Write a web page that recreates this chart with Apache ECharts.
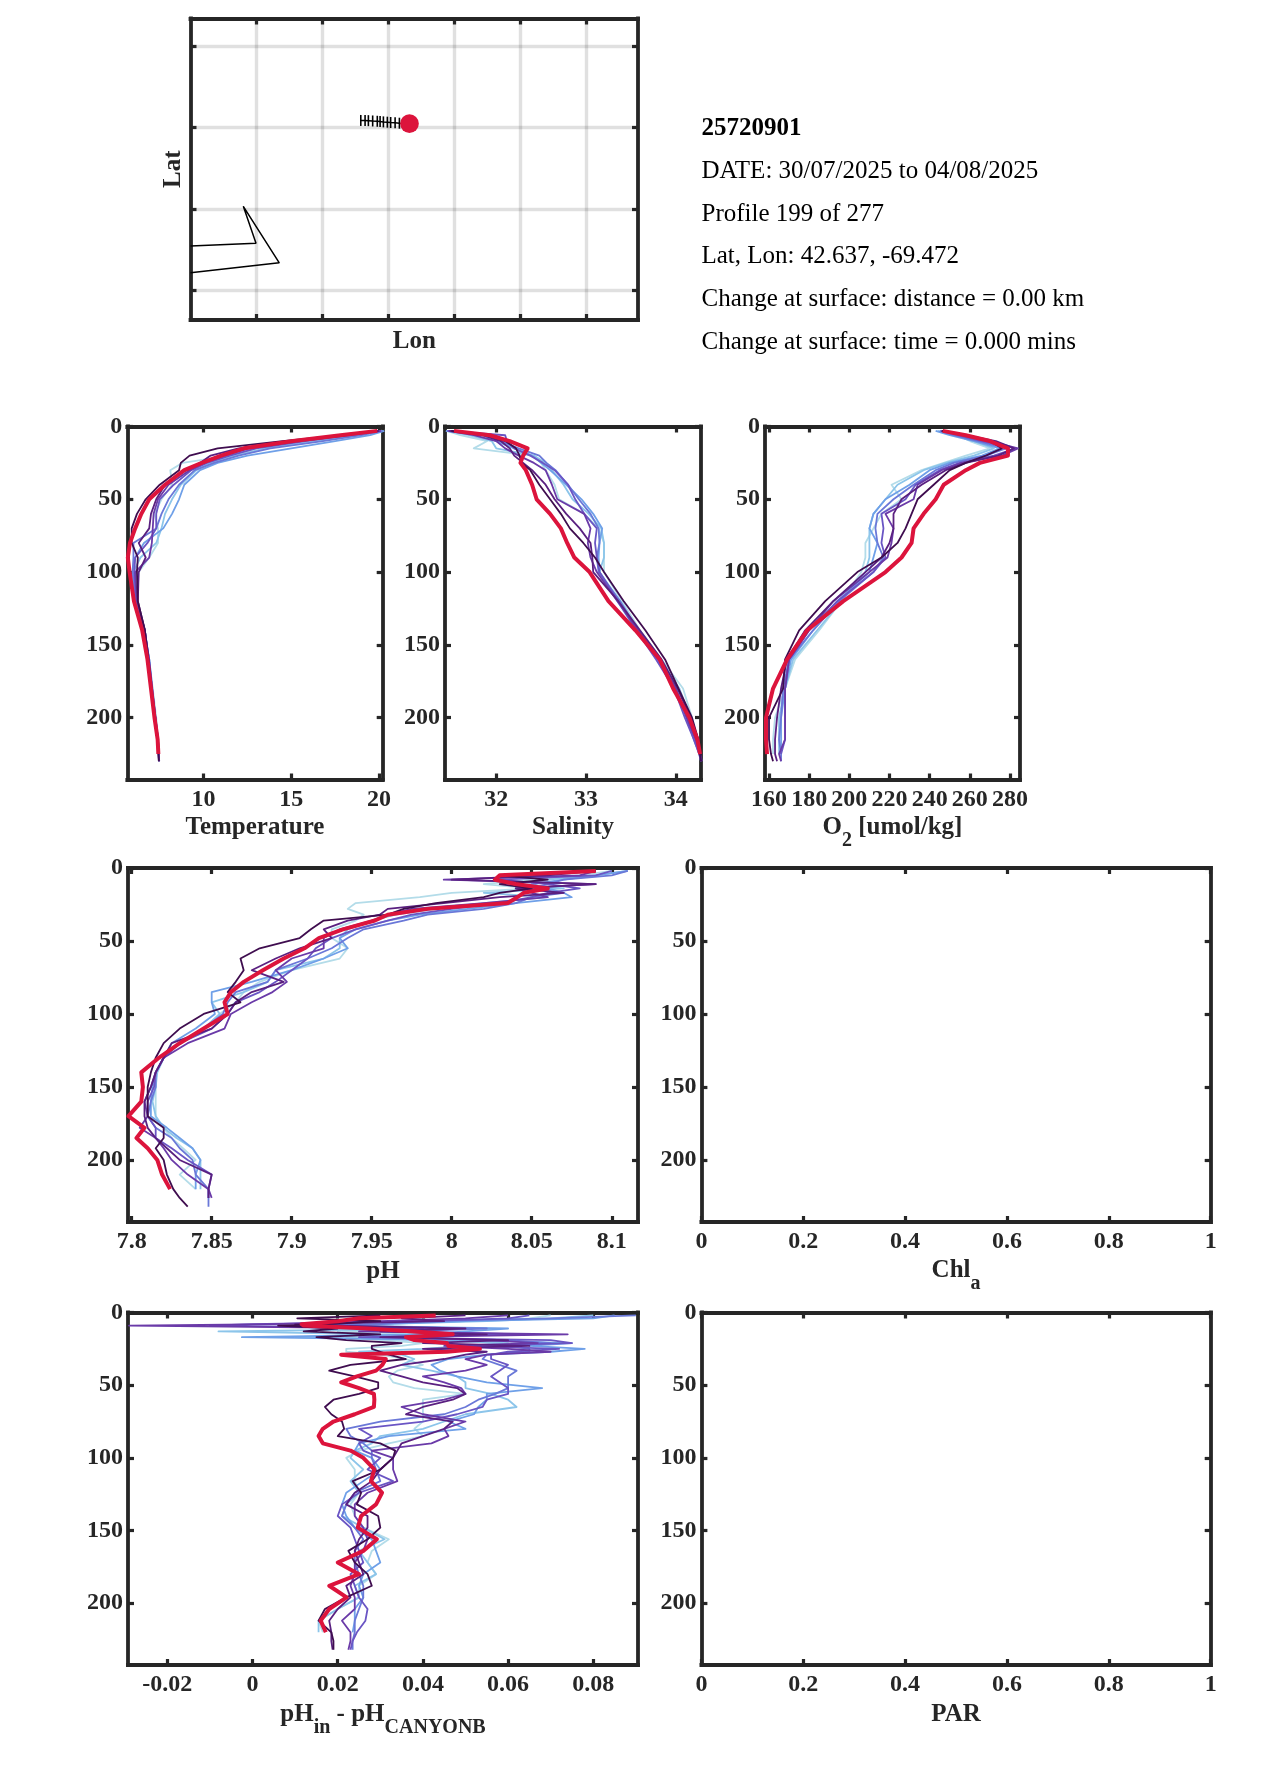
<!DOCTYPE html>
<html><head><meta charset="utf-8">
<script src="https://cdn.jsdelivr.net/npm/echarts@6/dist/echarts.min.js"></script>
<style>html,body{margin:0;padding:0;background:#fff}#c{width:1275px;height:1771px}</style>
</head><body><div id="c"></div>
<script>
// ---------- tick values ----------
const depthTicks=[0,50,100,150,200];
const tempTicks=[10,15,20];
const salTicks=[32,33,34];
const oxyTicks=[160,180,200,220,240,260,280];
const phTicks=[7.8,7.85,7.9,7.95,8,8.05,8.1];
const diffTicks=[-0.02,0,0.02,0.04,0.06,0.08];
const unitTicks=[0,0.2,0.4,0.6,0.8,1];
const lonGrid=[-70.4,-70,-69.6,-69.2,-68.8,-68.4];
const latGrid=[41,41.8,42.6,43.4];
// ---------- info text ----------
const infoTitle='25720901';
const infoLines=['DATE: 30/07/2025 to 04/08/2025','Profile 199 of 277','Lat, Lon: 42.637, -69.472','Change at surface: distance = 0.00 km','Change at surface: time = 0.000 mins'];
// ---------- map ----------
const coastLon=[-70.799,-70.402,-70.479,-70.261,-70.799];
const coastLat=[41.437,41.464,41.826,41.271,41.173];
const trackLon=[-69.767,-69.741,-69.721,-69.695,-69.667,-69.65,-69.63,-69.606,-69.586,-69.559,-69.533,-69.472];
const trackLat=[42.669,42.668,42.667,42.664,42.661,42.658,42.655,42.652,42.649,42.646,42.642,42.637];
const floatLon=[-69.472];
const floatLat=[42.637];
// ---------- profile colours, oldest to newest, current last ----------
const profileColors=['#b3dce9','#8cc5ea','#6fa0e8','#6a78d8','#6a55c4','#6a3aa8','#5a2080','#3f0d4f'];
const currentColor='#DC143C';
// ---------- depths ----------
const depthCtd=[3,6,10,15,20,25,30,40,50,60,70,80,90,100,120,140,160,180,200,215,225,230];
const depthPh=[2,5,8,11,14,17,20,24,28,32,36,42,48,55,62,70,78,85,92,100,110,120,130,140,150,160,170,178,185,192,200,210,220,226,232];
const depthDiff=[2,4,6,8,9,11,13,15,17,19,21,23,25,27,29,32,36,40,44,48,52,56,60,65,70,75,80,85,90,95,100,108,116,124,132,140,148,156,164,172,180,188,196,204,212,220,226,232];
// ---------- temperature ----------
const temp1=[20.2,18.6,16,13,11.5,8.8,8.1,8.2,7.6,7.2,7.4,7.4,6.9,6.3,6.2,6.65,6.9,7.1,7.3,7.4,7.45,null];
const temp2=[20.2,18.8,16.5,13.5,11.8,10.4,9.6,8.7,8.2,7.8,7.6,7.3,6.4,6.0,6.1,6.6,6.88,7.05,7.25,7.4,7.44,null];
const temp3=[20.3,19.5,17.5,15,12.5,10.8,9.8,8.9,8.6,8.2,7.7,6.6,6.1,5.95,6.1,6.6,6.9,7.05,7.25,7.4,7.44,7.46];
const temp4=[20.2,19,16.8,13.8,12,10.6,9.5,8.6,8.0,7.6,7.3,6.0,6.0,5.95,6.12,6.62,6.9,7.08,7.26,7.4,7.44,null];
const temp5=[20.1,18.4,15.8,13,11.5,10.2,9.3,8.3,7.5,7.3,7.3,6.8,6.1,6.05,6.15,6.65,6.88,7.06,7.25,7.4,7.44,7.46];
const temp6=[20.1,18.2,15.4,12.6,11.2,10,9.2,8.0,7.4,7.15,7.1,7.05,6.9,6.1,6.2,6.65,6.88,7.06,7.25,7.4,7.45,7.47];
const temp7=[20,18,15.2,12,10.4,9.8,9,7.8,7.3,7,6.9,6.3,6.7,6.3,6.25,6.65,6.86,7.04,7.24,7.38,7.43,7.45];
const temp8=[19.9,17.9,14.5,10.8,9.2,8.7,8.6,7.5,6.7,6.2,5.9,5.9,6.25,6.2,6.25,6.65,6.85,7.03,7.22,7.38,7.42,7.45];
const tempNow=[19.9,17.8,15.1,12.3,11,9.9,8.9,7.8,6.9,6.45,6.1,5.8,5.68,5.78,6.03,6.5,6.8,7.0,7.2,7.38,7.42,null];
// ---------- salinity ----------
const sal1=[31.45,31.6,31.9,31.75,32.4,32.5,32.55,32.65,32.7,32.98,33.14,33.2,33.2,33.2,33.4,33.6,33.84,34.08,34.18,34.24,34.27,null];
const sal2=[31.44,31.7,31.95,32,32.42,32.55,32.62,32.75,32.85,33.03,33.17,33.2,33.2,33.15,33.38,33.58,33.82,34.04,34.16,34.23,34.26,null];
const sal3=[31.44,31.85,32,32.2,32.4,32.5,32.6,32.78,32.95,33.08,33.18,33.15,33.14,33.15,33.35,33.56,33.8,34,34.13,34.22,34.26,34.28];
const sal4=[31.45,32.0,32.05,32.25,32.48,32.56,32.66,32.8,32.92,33.05,33.14,33.15,33.12,33.14,33.38,33.58,33.8,34,34.12,34.2,34.26,null];
const sal5=[31.46,32.1,32.12,32.2,32.38,32.52,32.65,32.8,32.88,32.98,33.12,33.1,33.12,33.15,33.36,33.56,33.78,33.98,34.1,34.2,34.26,34.28];
const sal6=[31.47,31.75,32.0,32.1,32.25,32.42,32.55,32.62,32.68,32.98,33.05,33.02,33.05,33.12,33.35,33.58,33.82,34.0,34.12,34.22,34.27,34.29];
const sal7=[31.48,31.85,32.05,32.15,32.2,32.3,32.4,32.55,32.65,32.78,32.93,33.05,33.07,33.08,33.36,33.6,33.84,34.02,34.16,34.25,34.27,34.28];
const sal8=[31.5,31.9,32.1,32.22,32.26,32.28,32.38,32.48,32.6,32.72,32.82,32.97,33.1,33.2,33.42,33.66,33.88,34.03,34.18,34.25,34.27,34.28];
const salNow=[31.53,31.93,32.15,32.35,32.3,32.27,32.33,32.4,32.45,32.6,32.72,32.79,32.87,33.04,33.25,33.55,33.82,33.97,34.15,34.24,34.27,null];
// ---------- oxygen ----------
const oxy1=[245,254,260,270,258,247,236,221,226,216,212,208,208,206,196,185,173,168,163,162,162,null];
const oxy2=[244,252,262,272,262,248,237,224,218,212,210,210,210,208,196,184,172,168,165,165,165,null];
const oxy3=[243,250,262,275,266,250,240,230,218,212,210,214,212,210,194,182,171,168,166,166,166,null];
const oxy4=[245,252,264,278,268,252,243,232,222,214,213,214,217,212,195,182,170,167,166,165,166,166];
const oxy5=[246,254,266,283,272,255,245,233,228,216,217,216,218,212,194,180,170,168,168,168,166,null];
const oxy6=[246,256,270,284,276,256,246,234,232,218,222,221,219,210,192,180,170,168,168,168,165,166];
const oxy7=[246,258,273,282,274,258,248,236,226,222,222,220,216,208,192,178,169,166,164,163,163,164];
const oxy8=[246,257,270,276,268,258,250,242,234,231,228,224,216,204,188,175,168,167,160,160,161,162];
const oxyNow=[246.5,258,270,279,279,265,258,247,243,237,232,231,226,218,197,179,169,162,158.5,158.5,159,null];
// ---------- pH ----------
const ph1=[8.1,8.08,8.05,8.02,8.05,8.0,7.98,7.94,7.935,7.945,7.94,7.925,7.925,7.935,7.93,7.9,7.88,7.87,7.865,7.855,7.845,7.83,7.82,7.815,7.815,7.815,7.815,7.82,7.825,7.832,7.84,7.83,7.84,null,null];
const ph2=[8.11,8.09,8.06,8.04,8.07,8.02,8.06,8.02,7.99,7.965,7.95,7.935,7.93,7.93,7.92,7.89,7.885,7.87,7.85,7.855,7.845,7.83,7.82,7.816,7.815,7.813,7.815,7.82,7.828,7.838,7.843,7.843,7.843,null,null];
const ph3=[8.11,8.09,8.07,8.05,8.06,8.07,8.075,8.04,8.01,7.98,7.96,7.94,7.93,7.935,7.92,7.9,7.875,7.85,7.85,7.852,7.84,7.825,7.82,7.815,7.813,7.812,7.812,7.822,7.83,7.838,7.843,7.84,7.84,null,null];
const ph4=[8.11,8.1,8.07,8.06,8.05,8.07,8.05,8.04,8.02,7.985,7.97,7.945,7.935,7.925,7.91,7.89,7.885,7.865,7.86,7.857,7.845,7.83,7.82,7.815,7.815,7.812,7.81,7.815,7.825,7.83,7.838,7.84,7.848,7.848,7.848];
const ph5=[8.1,8.09,8.03,8.06,8.08,8.06,8.05,8.03,8.0,7.975,7.96,7.94,7.925,7.915,7.91,7.9,7.89,7.88,7.865,7.86,7.85,7.83,7.82,7.815,7.814,7.81,7.81,7.815,7.815,7.825,7.835,7.85,7.848,7.848,null];
const ph6=[8.09,8.08,7.995,8.09,8.04,8.05,8.06,8.02,7.975,7.96,7.95,7.93,7.92,7.92,7.9,7.89,7.897,7.888,7.875,7.862,7.858,7.835,7.82,7.815,7.812,7.808,7.81,7.805,7.815,7.82,7.825,7.835,7.848,7.85,null];
const ph7=[8.09,8.06,8.0,8.09,8.04,8.07,8.03,7.995,7.96,7.955,7.935,7.92,7.925,7.905,7.89,7.875,7.895,7.875,7.865,7.86,7.85,7.825,7.82,7.815,7.812,7.808,7.808,7.81,7.815,7.822,7.83,7.85,7.848,7.848,null];
const ph8=[8.09,8.03,8.06,8.03,8.05,8.03,8.02,7.99,7.97,7.96,7.92,7.912,7.905,7.88,7.868,7.87,7.865,7.86,7.868,7.845,7.83,7.82,7.815,7.812,7.81,7.81,7.81,7.82,7.82,7.815,7.82,7.822,7.826,7.83,7.835];
const phNow=[8.09,8.03,8.027,8.04,8.06,8.045,8.041,8.035,7.985,7.96,7.952,7.932,7.917,7.908,7.895,7.882,7.87,7.862,7.858,7.86,7.845,7.83,7.817,7.806,7.807,7.806,7.798,7.808,7.803,7.81,7.816,7.819,7.824,null,null];
// ---------- pH difference ----------
const diff1=[.07,.065,.045,.025,.02,.04,.02,.04,.022,.03,.04,.035,.022,.022,.03,.036,.04,.034,.032,.033,.038,.05,.04,.04,.04,.04,.038,.04,.032,.025,.022,.024,.024,.025,.023,.024,.026,.032,.028,.027,.029,.025,.025,.02,.0155,.0165,null,null];
const diff2=[.08,.07,.055,.03,.025,.05,-.008,.03,.01,.04,.06,.05,.04,.025,.035,.038,.035,.042,.048,.05,.05,.056,.06,.062,.05,.045,.04,.03,.028,.024,.023,.026,.023,.025,.022,.021,.026,.031,.025,.027,.029,.024,.025,.02,.0155,.0155,null,null];
const diff3=[.085,.08,.05,.03,.02,.06,.05,.04,-.0025,.05,.075,.065,.078,.07,.055,.046,.042,.044,.048,.055,.068,.055,.055,.053,.052,.046,.05,.032,.025,.024,.028,.03,.026,.022,.021,.022,.024,.028,.029,.03,.026,.025,.026,.024,.024,.0235,null,null];
const diff4=[.09,.07,.04,.03,.01,.055,.035,.06,.03,.06,.07,.06,.065,.065,.055,.054,.058,.062,.06,.06,.06,.057,.053,.05,.045,.03,.022,.023,.026,.028,.028,.029,.03,.024,.022,.021,.024,.026,.024,.024,.025,.026,.026,.025,.024,.024,.0235,.0235];
const diff5=[.065,.06,.04,.0,-.01,.045,.03,.065,.025,.07,.075,.05,.072,.06,.056,.056,.06,.058,.056,.058,.06,.06,.055,.054,.048,.04,.025,.028,.025,.026,.03,.027,.033,.025,.021,.02,.023,.024,.025,.026,.023,.024,.025,.027,.0265,.0245,.0235,.023];
const diff6=[.06,.05,.03,.005,-.029,.04,.025,.074,.035,.055,.067,.045,.06,.07,.055,.05,.055,.05,.04,.045,.049,.05,.045,.035,.04,.05,.045,.046,.042,.028,.033,.033,.034,.027,.024,.024,.026,.027,.026,.024,.024,.023,.024,.024,.021,.023,.023,.0225];
const diff7=[.05,.035,.045,.01,.02,.05,.03,.055,.03,.06,.04,.065,.04,.055,.05,.045,.035,.03,.035,.04,.048,.05,.047,.04,.036,.047,.045,.04,.035,.034,.033,.03,.028,.024,.022,.027,.027,.025,.024,.025,.026,.022,.023,.02,.018,.0185,.0185,.0188];
const diff8=[.03,.0105,.03,.018,.006,.02,.012,.03,.015,.022,.035,.028,.028,.03,.032,.036,.023,.018,.024,.0295,.0295,.025,.019,.017,.0185,.021,.0215,.02,.03,.0335,.033,.03,.0235,.0255,.0245,.0295,.03,.027,.0225,.024,.027,.028,.022,.017,.0155,.0185,.019,.019];
const diffNow=[.043,.025,.02,.0115,.012,.027,.038,.047,.036,.038,.0456,.046,.0534,.0456,.0208,.0313,.0305,.029,.0245,.0208,.025,.0285,.0286,.0285,.024,.019,.0165,.0155,.0165,.023,.026,.0286,.0278,.0304,.029,.0255,.0247,.0292,.026,.02,.025,.018,.0221,.018,.016,.0172,null,null];

const INK='#262626', SERIF='"Liberation Serif","Times New Roman",serif';
const zip=(xs,ys)=>xs.map((x,i)=>[x,ys[i]]).filter(p=>p[0]!=null&&p[1]!=null);
const fmt=v=>String(+(+v).toFixed(4));
const FS=25, TICK_FS=24;
const subRich={n:{fontFamily:SERIF,fontWeight:'bold',fontSize:FS,color:INK},s:{fontFamily:SERIF,fontWeight:'bold',fontSize:20,color:INK,padding:[26,0,0,0]}};

const panels=[
 {box:[127.3,426.5,382.7,779.5],x:[5.65,20.21],xt:tempTicks,name:'Temperature',gap:36,d:depthCtd,p:[temp1,temp2,temp3,temp4,temp5,temp6,temp7,temp8],now:tempNow},
 {box:[445,426.5,701,779.5],x:[31.43,34.28],xt:salTicks,name:'Salinity',gap:36,d:depthCtd,p:[sal1,sal2,sal3,sal4,sal5,sal6,sal7,sal8],now:salNow},
 {box:[765,426.5,1020,779.5],x:[158,285],xt:oxyTicks,name:'{n|O}{s|2}{n| [umol/kg]}',gap:25.5,rich:subRich,d:depthCtd,p:[oxy1,oxy2,oxy3,oxy4,oxy5,oxy6,oxy7,oxy8],now:oxyNow},
 {box:[128,868,638,1222],x:[7.7977,8.1164],xt:phTicks,name:'pH',gap:37.5,d:depthPh,p:[ph1,ph2,ph3,ph4,ph5,ph6,ph7,ph8],now:phNow},
 {box:[701.4,868,1210.7,1222],x:[0,1],xt:unitTicks,name:'{n|Chl}{s|a}',gap:25.5,rich:subRich,d:null},
 {box:[128,1312.5,638,1665],x:[-0.02924,0.0905],xt:diffTicks,name:'{n|pH}{s|in}{n| - pH}{s|CANYONB}',gap:27,rich:subRich,d:depthDiff,p:[diff1,diff2,diff3,diff4,diff5,diff6,diff7,diff8],now:diffNow},
 {box:[701.4,1312.5,1210.7,1665],x:[0,1],xt:unitTicks,name:'PAR',gap:37,d:null}
];
const grids=[],xAxes=[],yAxes=[],series=[];
function frameAxis(base,ticks,show){
 const isLeft=base.position==='left';
 return Object.assign({type:'value',scale:false,silent:true,z:3,
  axisLine:{show:true,onZero:false,lineStyle:{color:INK,width:3.8,cap:'square'}},
  axisTick:{show:true,inside:true,length:6,customValues:ticks,lineStyle:{color:INK,width:3.2}},
  axisLabel:show?{show:true,customValues:ticks,formatter:fmt,color:INK,fontFamily:SERIF,fontWeight:'bold',fontSize:TICK_FS,margin:isLeft?5:8,padding:isLeft?[3,0,0,0]:0,hideOverlap:false,showMinLabel:true,showMaxLabel:true}:{show:false},
  splitLine:{show:false}},base);
}
function addGrid(box,xr,yr,xt,yt,xo,yo,bottomLabels,leftLabels){
 const g=grids.length;
 grids.push({left:box[0],top:box[1],width:box[2]-box[0],height:box[3]-box[1],containLabel:false});
 xAxes.push(frameAxis(Object.assign({gridIndex:g,position:'bottom',min:xr[0],max:xr[1]},xo||{}),xt,bottomLabels));
 xAxes.push(frameAxis({gridIndex:g,position:'top',min:xr[0],max:xr[1]},xt,false));
 yAxes.push(frameAxis(Object.assign({gridIndex:g,position:'left',min:yr[0],max:yr[1],inverse:yr[0]===0},yo||{}),yt,leftLabels));
 yAxes.push(frameAxis({gridIndex:g,position:'right',min:yr[0],max:yr[1],inverse:yr[0]===0},yt,false));
 return g;
}
// Map panel
const gMap=addGrid([190.5,18.5,638,320],[-70.799,-68.087],[40.71,43.67],lonGrid,latGrid,
 {name:'Lon',nameLocation:'middle',nameGap:9,nameTextStyle:{fontFamily:SERIF,fontWeight:'bold',fontSize:FS,color:INK},splitLine:{show:true,lineStyle:{color:'rgba(0,0,0,0.12)',width:3.4}}},
 {name:'Lat',nameLocation:'middle',nameGap:4.5,nameTextStyle:{fontFamily:SERIF,fontWeight:'bold',fontSize:FS,color:INK},splitLine:{show:true,lineStyle:{color:'rgba(0,0,0,0.12)',width:3.4}}},false,false);
const mapAxes={xAxisIndex:gMap*2,yAxisIndex:gMap*2};
series.push({type:'line',...mapAxes,data:zip(coastLon,coastLat),symbol:'none',lineStyle:{color:'#000',width:1.5},z:4,silent:true,animation:false});
series.push({type:'line',...mapAxes,data:zip(trackLon,trackLat),symbol:'rect',symbolSize:[1.6,11],showSymbol:true,showAllSymbol:true,itemStyle:{color:'#000'},lineStyle:{color:'#000',width:1.5},z:4,silent:true,animation:false});
series.push({type:'scatter',...mapAxes,data:zip(floatLon,floatLat),symbol:'circle',symbolSize:18.7,itemStyle:{color:currentColor,opacity:1},z:5,silent:true,animation:false});
// Profile panels
panels.forEach(pn=>{
 const ts={fontFamily:SERIF,fontWeight:'bold',fontSize:FS,color:INK};
 if(pn.rich)ts.rich=pn.rich;
 const g=addGrid(pn.box,pn.x,[0,242.5],pn.xt,depthTicks,{name:pn.name,nameLocation:'middle',nameGap:pn.gap,nameTextStyle:ts},null,true,true);
 if(pn.d){
  pn.p.forEach((vals,i)=>series.push({type:'line',xAxisIndex:g*2,yAxisIndex:g*2,data:zip(vals,pn.d),symbol:'none',lineStyle:{color:profileColors[i],width:1.8,join:'round'},z:4,silent:true,animation:false,clip:true}));
  series.push({type:'line',xAxisIndex:g*2,yAxisIndex:g*2,data:zip(pn.now,pn.d),symbol:'none',lineStyle:{color:currentColor,width:4,join:'round'},z:5,silent:true,animation:false,clip:true});
 }
});
const infoStyle=(t,y,bold)=>({type:'text',left:701.5,top:y,silent:true,style:{text:t,fill:'#000',font:(bold?'bold ':'')+'25px '+SERIF}});
const graphic=[infoStyle(infoTitle,116.5,true)].concat(infoLines.map((t,i)=>infoStyle(t,159.2+i*42.6,false)));
const chart=echarts.init(document.getElementById('c'),null,{width:1275,height:1771});
chart.setOption({animation:false,backgroundColor:'#fff',tooltip:{show:false},grid:grids,xAxis:xAxes,yAxis:yAxes,series,graphic});
</script></body></html>
